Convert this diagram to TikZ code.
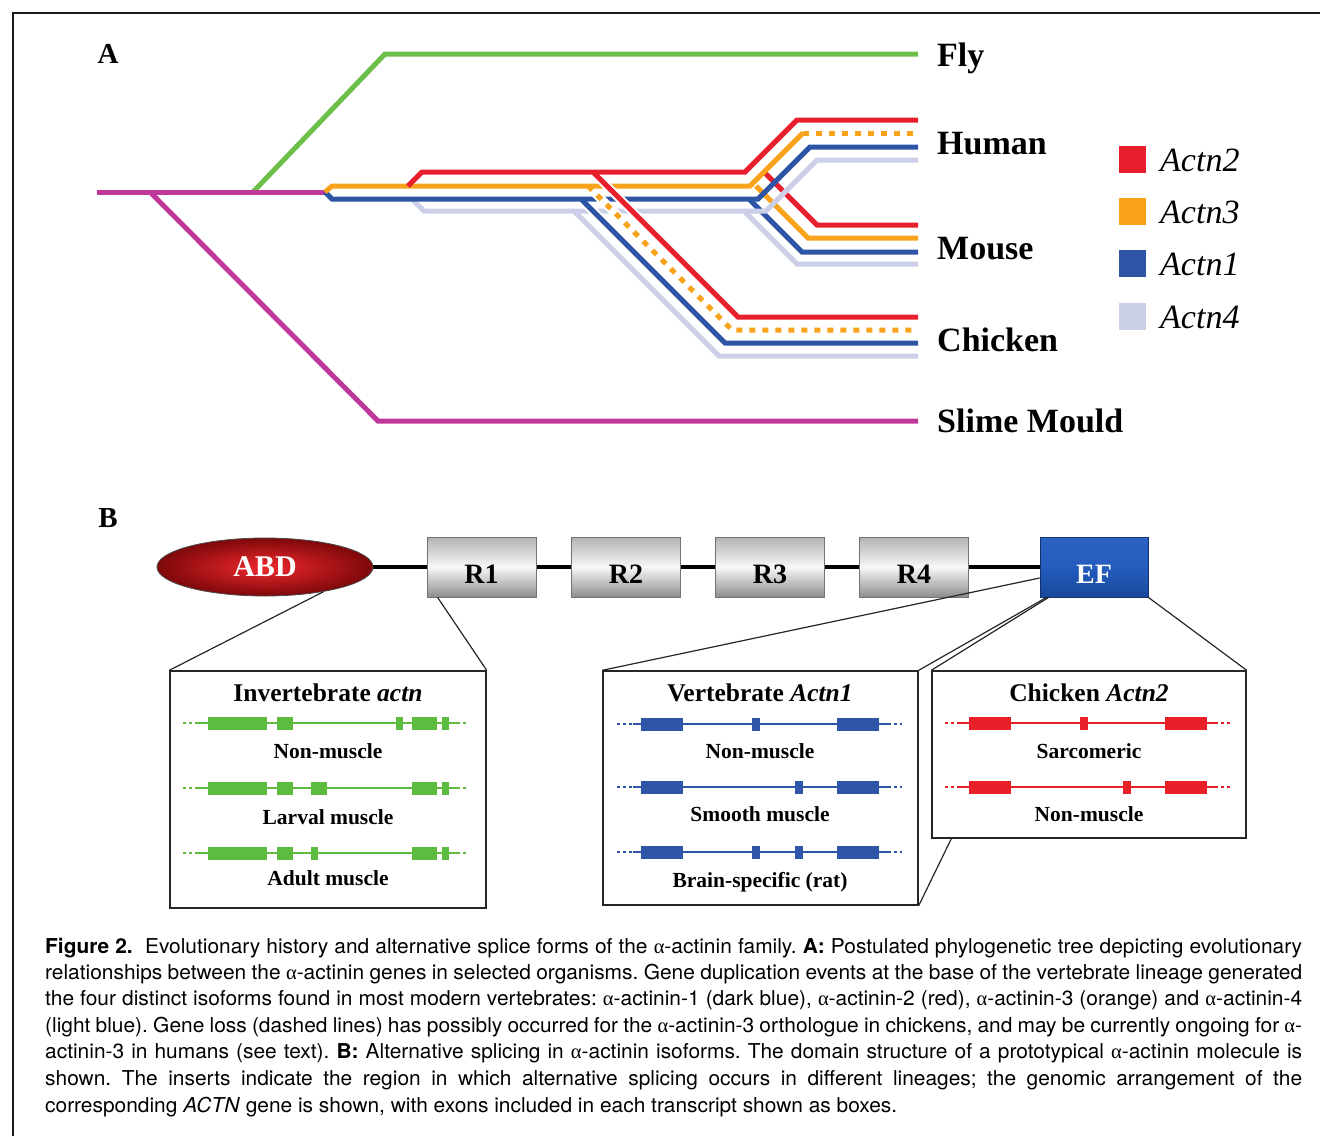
\documentclass[tikz,border=0pt]{standalone}
\usepackage{fontspec}
\setmainfont{Liberation Serif}
\newfontfamily\capfont[FakeStretch=1.02]{TeX Gyre Heros}
\newfontfamily\grkfont{Liberation Serif}
\newcommand\myalpha{{\grkfont α}}
\newcommand\domlab[1]{\raisebox{-16pt}[0pt][0pt]{#1}}
\usetikzlibrary{shapes.geometric,calc,backgrounds}
\definecolor{tred}{HTML}{E8202E}
\definecolor{torange}{HTML}{F9A21B}
\definecolor{tblue}{HTML}{2E54A6}
\definecolor{tlight}{HTML}{CBD0E8}
\definecolor{tmag}{HTML}{C0399A}
\definecolor{tgreen}{HTML}{6CC04A}
\definecolor{ggreen}{HTML}{5DBB3F}
\definecolor{gblue}{HTML}{2F55A8}
\definecolor{gred}{HTML}{E8202A}
\newcommand\treebranch[2]{%
  \draw[white, line width=9pt, shorten <=8pt] #2;
  \draw[#1, line width=5pt] #2;}
\newcommand\genrow[7]{%
  \draw[#1, line width=2.4pt, dash pattern=on 3pt off 3pt] (#3,#2) -- (#4,#2);
  \draw[#1, line width=2.4pt] (#4,#2) -- (#5,#2);
  \draw[#1, line width=2.4pt, dash pattern=on 3pt off 3pt] (#5,#2) -- (#6,#2);
  \foreach \ea/\eb in {#7} \fill[#1] (\ea,#2-6.5) rectangle (\eb,#2+6.5);}
\begin{document}
\frenchspacing
\begin{tikzpicture}[x=1pt,y=-1pt,
  lab/.style={font=\fontsize{34}{40}\selectfont\bfseries, inner sep=0, anchor=base west},
  leg/.style={font=\fontsize{34}{40}\selectfont\itshape, inner sep=0, anchor=base west},
  sq/.style={minimum size=27pt, inner sep=0},
  panel/.style={font=\fontsize{29}{34}\selectfont\bfseries, inner sep=0, anchor=base},
  dom/.style={draw=black!55, line width=0.8pt, minimum width=109pt, minimum height=60pt, inner sep=0,
    font=\fontsize{28}{32}\selectfont\bfseries, top color=black!30, bottom color=black!45, middle color=black!3},
  insetbox/.style={draw=black!85, line width=1.4pt, inner sep=0},
  ttl/.style={font=\fontsize{25.5}{30}\selectfont\bfseries, anchor=base, inner sep=0},
  rowlab/.style={font=\fontsize{21.5}{26}\selectfont\bfseries, anchor=base, inner sep=0},
  zoomline/.style={line width=1.2pt, draw=black!85},
  captxt/.style={font=\capfont\fontsize{20.5}{24}\selectfont, anchor=base west, inner sep=0}]
\useasboundingbox (0,0) rectangle (1320,1136);
% frame
\draw[line width=2.5pt, black!90] (13,1136) -- (13,13) -- (1320,13);
% ---------------- Panel A
\node[panel] (pA) at (108,63) {A};
\draw[tgreen, line width=5pt] (253,192) -- (385,54) -- (918,54);
\draw[tmag, line width=5pt] (150,192) -- (378,421) -- (918,421);
\draw[tmag, line width=5pt] (97,192) -- (328,192);
% mouse branches (under)
\treebranch{tlight}{(744,211) -- (797,264) -- (918,264)}
\treebranch{tblue}{(749,199) -- (802,252) -- (918,252)}
\treebranch{torange}{(756,186) -- (808,238) -- (918,238)}
\treebranch{tred}{(764,172) -- (817,225) -- (918,225)}
% main lines and human branches
\draw[tlight, line width=5pt] (412,199) -- (424,211) -- (766,211) -- (817,160) -- (918,160);
\draw[tblue, line width=5pt] (325,192) -- (332,199) -- (758,199) -- (810,147) -- (918,147);
\draw[torange, line width=5pt] (325,192) -- (332,186) -- (750,186) -- (803,133);
\draw[torange, line width=5pt, dash pattern=on 6pt off 7pt] (803,133) -- (918,133);
\draw[tred, line width=5pt] (408,186) -- (422,172) -- (745,172) -- (797,120) -- (918,120);
% chicken branches (over)
\treebranch{tlight}{(574,211) -- (719,356) -- (918,356)}
\treebranch{tblue}{(581,199) -- (725,343) -- (918,343)}
\draw[white, line width=9pt, shorten <=8pt] (588,186) -- (732,330) -- (918,330);
\draw[torange, line width=5pt, dash pattern=on 6pt off 7pt] (588,186) -- (732,330) -- (918,330);
\treebranch{tred}{(593,172) -- (738,317) -- (918,317)}
% labels
\node[lab] (fly) at (937,66) {Fly};
\node[lab] (human) at (937,154) {Human};
\node[lab] (mouse) at (937,259) {Mouse};
\node[lab] (chicken) at (937,351) {Chicken};
\node[lab] (slime) at (937,432) {Slime Mould};
% legend
\node[sq, fill=tred] (sq2) at (1132,159) {};
\node[sq, fill=torange] (sq3) at (1132,211) {};
\node[sq, fill=tblue] (sq1) at (1132,263) {};
\node[sq, fill=tlight] (sq4) at (1132,316) {};
\node[leg] (l2) at (1160,171) {Actn2};
\node[leg] (l3) at (1160,223) {Actn3};
\node[leg] (l1) at (1160,275) {Actn1};
\node[leg] (l4) at (1160,328) {Actn4};
% ---------------- Panel B
\node[panel] (pB) at (108,527) {B};
\node[ellipse, draw=black!70, line width=0.8pt, minimum width=216pt, minimum height=58pt, inner sep=0,
  inner color={rgb,255:red,240;green,40;blue,45}, outer color={rgb,255:red,125;green,8;blue,10},
  text=white, font=\fontsize{30}{34}\selectfont\bfseries] (ABD) at (265,567) {ABD};
\node[dom] (R1) at (481.5,567) {\domlab{R1}};
\node[dom] (R2) at (626,567) {\domlab{R2}};
\node[dom] (R3) at (770,567) {\domlab{R3}};
\node[dom] (R4) at (914,567) {\domlab{R4}};
\node[dom, draw={rgb,255:red,20;green,50;blue,110}, top color={rgb,255:red,44;green,98;blue,196},
  bottom color={rgb,255:red,24;green,72;blue,156}, middle color={rgb,255:red,36;green,92;blue,190},
  text=white, minimum width=108pt] (EF) at (1094,567) {\domlab{EF}};
\begin{scope}[on background layer]
\draw[line width=4pt] (ABD.east) -- (EF.west);
\end{scope}
% insets
\node[insetbox, minimum width=316pt, minimum height=237pt] (box1) at (328,789.5) {};
\node[insetbox, minimum width=315pt, minimum height=234pt] (box2) at (760.5,788) {};
\node[insetbox, minimum width=314pt, minimum height=167pt] (box3) at (1089,754.5) {};
\draw[zoomline] (ABD.-23) -- (box1.north west);
\draw[zoomline] ($(R1.south west)+(11,0)$) -- (box1.north east);
\draw[zoomline] (box2.north west) -- ($(EF.west)+(0,11)$);
\draw[zoomline] ($(EF.south west)+(7,0)$) -- (box2.north east);
\draw[zoomline] ($(EF.south west)+(9,0)$) -- (box3.north west);
\draw[zoomline] (EF.south east) -- (box3.north east);
\draw[zoomline] (box2.south east) -- ($(box3.south west)+(20,0)$);
% box 1
\node[ttl] (t1) at (328,701) {Invertebrate \textit{actn}};
\genrow{ggreen}{723}{183}{198}{457}{468}{208/267,277/293,396/403,412/437,442/449}
\node[rowlab] (b1r1) at (328,758) {Non-muscle};
\genrow{ggreen}{788}{183}{198}{457}{468}{208/267,277/293,311/327,412/437,442/449}
\node[rowlab] (b1r2) at (328,824) {Larval muscle};
\genrow{ggreen}{853}{183}{198}{457}{468}{208/267,277/293,311/318,412/437,442/449}
\node[rowlab] (b1r3) at (328,885) {Adult muscle};
% box 2
\node[ttl] (t2) at (760,701) {Vertebrate \textit{Actn1}};
\genrow{gblue}{724}{617}{633}{888}{902}{641/683,752/760,837/879}
\node[rowlab] (b2r1) at (760,758) {Non-muscle};
\genrow{gblue}{787}{617}{633}{888}{902}{641/683,795/803,837/879}
\node[rowlab] (b2r2) at (760,821) {Smooth muscle};
\genrow{gblue}{852}{617}{633}{888}{902}{641/683,752/760,795/803,837/879}
\node[rowlab] (b2r3) at (760,887) {Brain-specific (rat)};
% box 3
\node[ttl] (t3) at (1089,701) {Chicken \textit{Actn2}};
\genrow{gred}{723}{945}{958}{1215}{1230}{969/1011,1080/1088,1165/1207}
\node[rowlab] (b3r1) at (1089,758) {Sarcomeric};
\genrow{gred}{787}{945}{958}{1215}{1230}{969/1011,1123/1131,1165/1207}
\node[rowlab] (b3r2) at (1089,821) {Non-muscle};
% ---------------- caption
\node[captxt] (c1) at (45,953) {\hbox to 1257pt{\textbf{Figure 2.}\ \ Evolutionary history and alternative splice forms of the \myalpha-actinin family. \textbf{A:} Postulated phylogenetic tree depicting evolutionary}};
\node[captxt] (c2) at (45,979) {\hbox to 1257pt{relationships between the \myalpha-actinin genes in selected organisms. Gene duplication events at the base of the vertebrate lineage generated}};
\node[captxt] (c3) at (45,1005) {\hbox to 1257pt{the four distinct isoforms found in most modern vertebrates: \myalpha-actinin-1 (dark blue), \myalpha-actinin-2 (red), \myalpha-actinin-3 (orange) and \myalpha-actinin-4}};
\node[captxt] (c4) at (45,1032) {\hbox to 1257pt{(light blue). Gene loss (dashed lines) has possibly occurred for the \myalpha-actinin-3 orthologue in chickens, and may be currently ongoing for \myalpha-}};
\node[captxt] (c5) at (45,1058) {\hbox to 1257pt{actinin-3 in humans (see text). \textbf{B:} Alternative splicing in \myalpha-actinin isoforms. The domain structure of a prototypical \myalpha-actinin molecule is}};
\node[captxt] (c6) at (45,1085) {\hbox to 1257pt{shown. The inserts indicate the region in which alternative splicing occurs in different lineages; the genomic arrangement of the}};
\node[captxt] (c7) at (45,1112) {corresponding \textit{ACTN} gene is shown, with exons included in each transcript shown as boxes.};
\end{tikzpicture}
\end{document}
